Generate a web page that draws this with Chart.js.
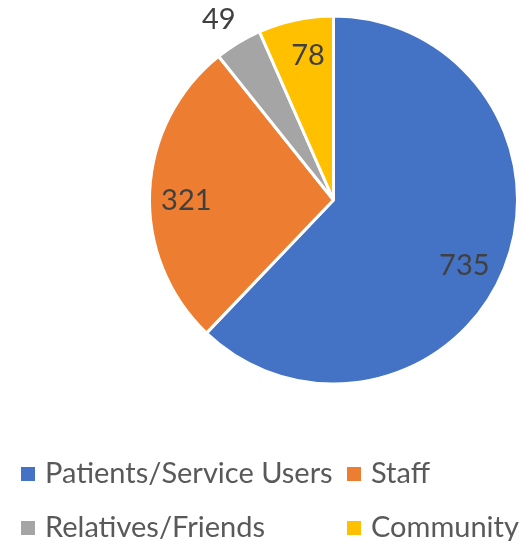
<!DOCTYPE html>
<html lang="en">
<head>
    <meta charset="UTF-8">
    <title>Pie</title>
    <script src="https://cdn.jsdelivr.net/npm/chart.js"></script>
    <style>
        body {
            margin: 0;
            padding: 0;
            background: #ffffff;
        }
        .chart-box {
            width: 523px;
            height: 541px;
        }
    </style>
</head>
<body>
    <div class="chart-box">
        <canvas id="pieChart"></canvas>
    </div>

    <script>
        const categories = ["Patients/Service Users", "Staff", "Relatives/Friends", "Community"];
        const values = [735, 321, 49, 78];
        const sliceColors = ["#4472C4", "#ED7D31", "#A5A5A5", "#FFC000"];

        // where each value label sits: fraction of radius, and angle nudge in degrees
        const labelRadius = [0.79, 0.80, 1.17, 0.81];
        const labelNudge = [4, -2, -1, 2];

        const labelFont = "29px Lato";

        // legend slots (two columns, two rows like the Office layout)
        const legendSlots = [
            { x: 21, y: 483 },
            { x: 347, y: 483 },
            { x: 21, y: 537 },
            { x: 347, y: 537 }
        ];

        const valueLabels = {
            id: "valueLabels",
            afterDatasetsDraw(chart) {
                const ctx = chart.ctx;
                const arcs = chart.getDatasetMeta(0).data;
                ctx.save();
                ctx.font = labelFont;
                ctx.fillStyle = "#404040";
                ctx.textAlign = "center";
                ctx.textBaseline = "middle";
                arcs.forEach((arc, i) => {
                    const mid = (arc.startAngle + arc.endAngle) / 2 + labelNudge[i] * Math.PI / 180;
                    const r = arc.outerRadius * labelRadius[i];
                    ctx.fillText(String(values[i]), arc.x + Math.cos(mid) * r, arc.y + Math.sin(mid) * r + 2);
                });
                ctx.restore();
            }
        };

        const customLegend = {
            id: "customLegend",
            afterDraw(chart) {
                const ctx = chart.ctx;
                ctx.save();
                ctx.font = labelFont;
                ctx.textAlign = "left";
                ctx.textBaseline = "alphabetic";
                categories.forEach((name, i) => {
                    const slot = legendSlots[i];
                    ctx.fillStyle = sliceColors[i];
                    ctx.fillRect(slot.x, slot.y - 16, 14, 14);
                    ctx.fillStyle = "#595959";
                    ctx.fillText(name, slot.x + 24, slot.y);
                });
                ctx.restore();
            }
        };

        new Chart(document.getElementById("pieChart"), {
            type: "pie",
            data: {
                labels: categories,
                datasets: [{
                    data: values,
                    backgroundColor: sliceColors,
                    borderColor: "#ffffff",
                    borderWidth: 3
                }]
            },
            options: {
                responsive: true,
                maintainAspectRatio: false,
                animation: false,
                layout: {
                    padding: { left: 148, top: 14, right: 4, bottom: 155 }
                },
                plugins: {
                    legend: { display: false },
                    tooltip: { enabled: false }
                }
            },
            plugins: [valueLabels, customLegend]
        });
    </script>
</body>
</html>
